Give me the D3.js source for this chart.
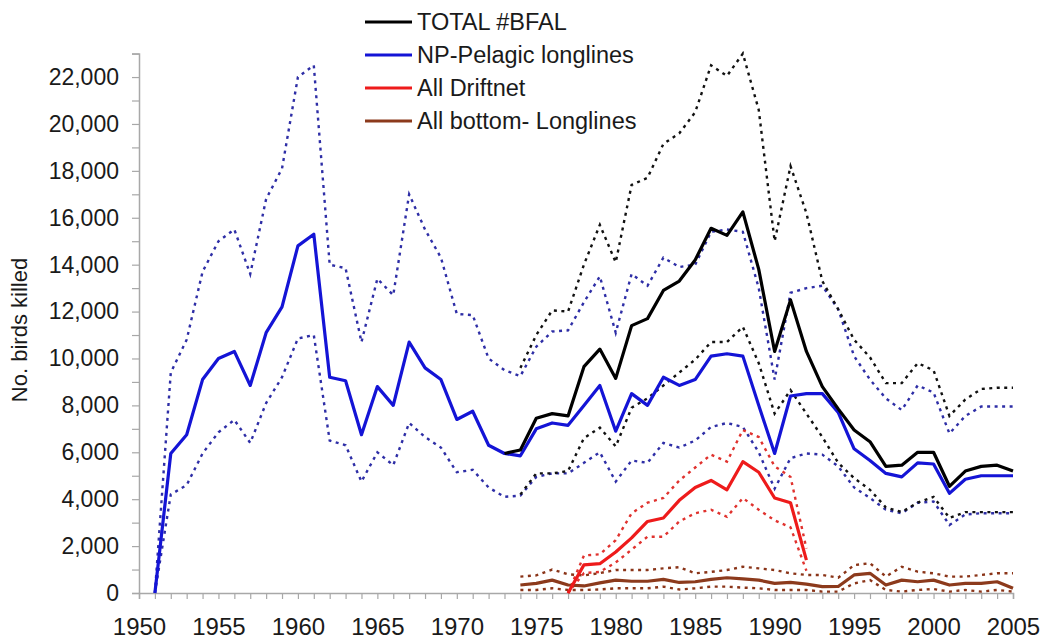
<!DOCTYPE html>
<html>
<head>
<meta charset="utf-8">
<script src="https://cdn.jsdelivr.net/npm/d3@7"></script>
<style>
  body { margin: 0; background: #fff; }
  svg { display: block; font-family: "Liberation Sans", Arial, sans-serif; }
</style>
</head>
<body>
<svg id="chart"></svg>
<script>
// years on the x axis (1951 - 2005)
const years = [1951, 1952, 1953, 1954, 1955, 1956, 1957, 1958, 1959, 1960,
  1961, 1962, 1963, 1964, 1965, 1966, 1967, 1968, 1969, 1970,
  1971, 1972, 1973, 1974, 1975, 1976, 1977, 1978, 1979, 1980,
  1981, 1982, 1983, 1984, 1985, 1986, 1987, 1988, 1989, 1990,
  1991, 1992, 1993, 1994, 1995, 1996, 1997, 1998, 1999, 2000,
  2001, 2002, 2003, 2004, 2005];

const _ = null;

// TOTAL #BFAL
const total = [_, _, _, _, _, _, _, _, _, _,
  _, _, _, _, _, _, _, _, _, _,
  _, _, 5950, 6100, 7450, 7650, 7550, 9650, 10400, 9150,
  11400, 11700, 12900, 13300, 14200, 15550, 15250, 16250, 13800, 10300,
  12500, 10300, 8800, 7850, 6950, 6450, 5400, 5450, 6000, 6000,
  4550, 5200, 5400, 5450, 5200];
const totalHi = [_, _, _, _, _, _, _, _, _, _,
  _, _, _, _, _, _, _, _, _, _,
  _, _, _, 9600, 11000, 12050, 12000, 14000, 15700, 14100,
  17400, 17700, 19150, 19600, 20500, 22500, 22050, 23000, 20600, 15000,
  18200, 16200, 13300, 12100, 10800, 10050, 8950, 8950, 9800, 9500,
  7550, 8250, 8700, 8750, 8750];
const totalLo = [_, _, _, _, _, _, _, _, _, _,
  _, _, _, _, _, _, _, _, _, _,
  _, _, _, 4200, 5100, 5100, 5200, 6600, 7050, 6250,
  7900, 8300, 8850, 9400, 9950, 10700, 10700, 11350, 9800, 7650,
  8650, 7650, 6650, 5550, 4900, 4400, 3650, 3450, 3850, 4100,
  3200, 3450, 3450, 3450, 3450];

// NP-Pelagic longlines
const pelagic = [0, 5950, 6750, 9100, 10000, 10300, 8850, 11100, 12200, 14800,
  15300, 9200, 9050, 6750, 8800, 8000, 10700, 9600, 9100, 7400,
  7750, 6300, 5950, 5850, 7000, 7250, 7150, 8000, 8850, 6900,
  8500, 8000, 9200, 8850, 9100, 10100, 10200, 10100, 8000, 5950,
  8400, 8500, 8500, 7700, 6150, 5650, 5100, 4950, 5550, 5500,
  4250, 4850, 5000, 5000, 5000];
const pelagicHi = [0, 9400, 10800, 13700, 15000, 15500, 13600, 16800, 18100, 22000,
  22500, 14000, 13850, 10700, 13400, 12700, 17000, 15500, 14300, 11900,
  11850, 10000, 9500, 9250, 10500, 11150, 11200, 12400, 13500, 11100,
  13600, 13100, 14300, 13900, 14000, 15400, 15500, 15400, 13000, 9100,
  12800, 13000, 13100, 12100, 10100, 9100, 8300, 7800, 8850, 8550,
  6800, 7550, 7950, 7950, 7950];
const pelagicLo = [0, 4200, 4600, 5950, 6850, 7380, 6400, 8100, 9200, 10850,
  11000, 6500, 6300, 4750, 6000, 5450, 7250, 6650, 6200, 5150,
  5250, 4500, 4100, 4150, 4950, 5100, 5100, 5550, 6000, 4750,
  5650, 5550, 6400, 6200, 6500, 7080, 7250, 7080, 6000, 4450,
  5750, 5950, 5900, 5400, 4500, 4050, 3550, 3400, 3850, 3900,
  2900, 3350, 3400, 3400, 3400];

// All Driftnet
const driftnet = [_, _, _, _, _, _, _, _, _, _,
  _, _, _, _, _, _, _, _, _, _,
  _, _, _, _, _, _, 0, 1200, 1250, 1750,
  2350, 3050, 3200, 3950, 4500, 4800, 4400, 5600, 5150, 4050,
  3850, 1400, _, _, _, _, _, _, _, _,
  _, _, _, _, _];
const driftnetHi = [_, _, _, _, _, _, _, _, _, _,
  _, _, _, _, _, _, _, _, _, _,
  _, _, _, _, _, _, 0, 1600, 1650, 2250,
  3400, 3850, 4050, 4800, 5350, 5900, 5600, 6950, 6650, 5400,
  4950, 1900, _, _, _, _, _, _, _, _,
  _, _, _, _, _];
const driftnetLo = [_, _, _, _, _, _, _, _, _, _,
  _, _, _, _, _, _, _, _, _, _,
  _, _, _, _, _, _, 0, 850, 900, 1300,
  1850, 2400, 2400, 3050, 3400, 3550, 3250, 4050, 3550, 3100,
  2800, 950, _, _, _, _, _, _, _, _,
  _, _, _, _, _];

// All bottom- Longlines
const bottom = [_, _, _, _, _, _, _, _, _, _,
  _, _, _, _, _, _, _, _, _, _,
  _, _, _, 340, 410, 550, 340, 300, 430, 550,
  500, 500, 580, 450, 480, 580, 650, 600, 550, 410,
  450, 380, 270, 280, 770, 840, 340, 550, 480, 550,
  340, 410, 410, 480, 200];
const bottomHi = [_, _, _, _, _, _, _, _, _, _,
  _, _, _, _, _, _, _, _, _, _,
  _, _, _, 700, 750, 1000, 800, 750, 850, 980,
  980, 980, 1050, 1100, 840, 900, 980, 1120, 1050, 980,
  840, 770, 770, 650, 1190, 1270, 700, 1120, 910, 840,
  700, 700, 770, 840, 840];
const bottomLo = [_, _, _, _, _, _, _, _, _, _,
  _, _, _, _, _, _, _, _, _, _,
  _, _, _, 130, 130, 200, 130, 130, 150, 200,
  200, 200, 270, 150, 200, 270, 270, 230, 200, 130,
  130, 130, 60, 60, 410, 550, 130, 60, 130, 170,
  60, 130, 60, 130, 60];

const legendLabels = ["TOTAL #BFAL", "NP-Pelagic longlines", "All Driftnet", "All bottom- Longlines"];
const legendColors = ["#000000", "#1414d6", "#ee1b1b", "#8c3a1c"];

const width = 1044;
const height = 641;
const margin = { left: 139, right: 31, top: 53, bottom: 48 };

const svg = d3.select("#chart")
  .attr("width", width)
  .attr("height", height);

const x = d3.scaleLinear()
  .domain([1950, 2005])
  .range([margin.left, width - margin.right]);

const y = d3.scaleLinear()
  .domain([0, 23000])
  .range([height - margin.bottom, margin.top + 0.6]);

//axes
const yAxis = d3.axisLeft(y)
  .tickValues(d3.range(0, 23001, 1000))
  .tickSize(7)
  .tickPadding(13)
  .tickFormat(d => d % 2000 === 0 ? d3.format(",")(d) : "");

const xAxis = d3.axisBottom(x)
  .tickValues(d3.range(1950, 2006, 1))
  .tickSize(6)
  .tickPadding(22)
  .tickFormat(d => d % 5 === 0 ? d : "");

const gy = svg.append("g")
  .attr("transform", `translate(${margin.left},0)`)
  .call(yAxis);

const gx = svg.append("g")
  .attr("transform", `translate(0,${height - margin.bottom})`)
  .call(xAxis);

[gx, gy].forEach(g => {
  g.select(".domain").attr("stroke", "#a8a8a8").attr("stroke-width", 1.5);
  g.selectAll(".tick line").attr("stroke", "#a8a8a8").attr("stroke-width", 1.2);
  g.selectAll(".tick text").attr("fill", "#1a1a1a").attr("font-size", 23);
});
gx.selectAll(".tick text").attr("font-size", 24).attr("dy", "0.58em");

//y axis title
svg.append("text")
  .attr("transform", `translate(27,330) rotate(-90)`)
  .attr("text-anchor", "middle")
  .attr("font-size", 22)
  .attr("fill", "#1a1a1a")
  .text("No. birds killed");

//lines
const line = d3.line()
  .defined(d => d[1] !== null)
  .x(d => x(d[0]))
  .y(d => y(d[1]));

const toPts = arr => years.map((yr, i) => [yr, arr[i]]);

const dotted = [
  [pelagicHi, "#2e2ea6"], [pelagicLo, "#2e2ea6"],
  [totalHi, "#111111"], [totalLo, "#111111"],
  [driftnetHi, "#e0322e"], [driftnetLo, "#e0322e"],
  [bottomHi, "#8a3418"], [bottomLo, "#8a3418"]
];

dotted.forEach(([arr, col]) => {
  svg.append("path")
    .attr("d", line(toPts(arr)))
    .attr("fill", "none")
    .attr("stroke", col)
    .attr("stroke-width", 2.4)
    .attr("stroke-dasharray", "3,4.5");
});

const solid = [
  [bottom, legendColors[3]],
  [driftnet, legendColors[2]],
  [pelagic, legendColors[1]],
  [total, legendColors[0]]
];

solid.forEach(([arr, col]) => {
  svg.append("path")
    .attr("d", line(toPts(arr)))
    .attr("fill", "none")
    .attr("stroke", col)
    .attr("stroke-width", 3.2)
    .attr("stroke-linejoin", "round");
});

//legend
const legend = svg.append("g").attr("transform", "translate(365,22)");
legendLabels.forEach((lab, i) => {
  const row = legend.append("g").attr("transform", `translate(0,${i * 33})`);
  row.append("line")
    .attr("x1", 0).attr("x2", 47)
    .attr("y1", 0).attr("y2", 0)
    .attr("stroke", legendColors[i])
    .attr("stroke-width", 3);
  row.append("text")
    .attr("x", 52)
    .attr("y", 8)
    .attr("font-size", 23.5)
    .attr("fill", "#1a1a1a")
    .text(lab);
});
</script>
</body>
</html>
